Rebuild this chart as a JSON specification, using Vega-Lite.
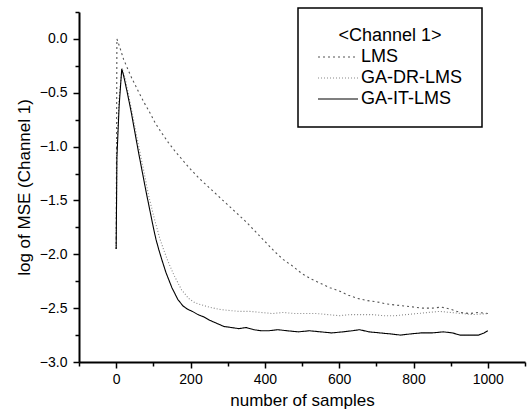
{
  "$schema": "https://vega.github.io/schema/vega-lite/v6.json",
  "width": 446,
  "height": 350,
  "autosize": {"type": "none"},
  "padding": {"left": 79, "top": 12, "right": 2, "bottom": 55},
  "background": "white",
  "config": {
    "view": {"stroke": null},
    "font": "Liberation Sans",
    "axis": {"domainColor": "black", "domainWidth": 2, "tickColor": "black", "tickWidth": 1.5, "labelColor": "black", "titleColor": "black", "labelFont": "Liberation Sans", "titleFont": "Liberation Sans", "titleFontWeight": "normal", "grid": false},
    "legend": {
      "orient": "none", "legendX": 219, "legendY": -4,
      "strokeColor": "black", "strokeWidth": 1.5, "padding": 19,
      "titleFontSize": 18, "titleFontWeight": "normal", "titleAnchor": "middle", "titleColor": "black", "titlePadding": 3,
      "labelFontSize": 18, "labelColor": "black", "labelOffset": 14,
      "symbolType": "M-4,0H4", "symbolSize": 100, "symbolFillColor": "transparent", "symbolOffset": 12,
      "rowPadding": 3
    }
  },
  "data": {"values": [
    {"series": "LMS", "x": 0, "y": -1.95},
    {"series": "LMS", "x": 2, "y": 0.0},
    {"series": "LMS", "x": 10, "y": -0.08},
    {"series": "LMS", "x": 20, "y": -0.19},
    {"series": "LMS", "x": 30, "y": -0.27},
    {"series": "LMS", "x": 40, "y": -0.35},
    {"series": "LMS", "x": 50, "y": -0.42},
    {"series": "LMS", "x": 60, "y": -0.49},
    {"series": "LMS", "x": 75, "y": -0.59},
    {"series": "LMS", "x": 90, "y": -0.68},
    {"series": "LMS", "x": 105, "y": -0.78},
    {"series": "LMS", "x": 120, "y": -0.86},
    {"series": "LMS", "x": 140, "y": -0.96},
    {"series": "LMS", "x": 160, "y": -1.05},
    {"series": "LMS", "x": 180, "y": -1.13},
    {"series": "LMS", "x": 200, "y": -1.21},
    {"series": "LMS", "x": 225, "y": -1.3},
    {"series": "LMS", "x": 250, "y": -1.38},
    {"series": "LMS", "x": 275, "y": -1.46},
    {"series": "LMS", "x": 300, "y": -1.54},
    {"series": "LMS", "x": 325, "y": -1.62},
    {"series": "LMS", "x": 350, "y": -1.7},
    {"series": "LMS", "x": 375, "y": -1.79},
    {"series": "LMS", "x": 400, "y": -1.88},
    {"series": "LMS", "x": 425, "y": -1.97},
    {"series": "LMS", "x": 450, "y": -2.05},
    {"series": "LMS", "x": 475, "y": -2.11},
    {"series": "LMS", "x": 500, "y": -2.18},
    {"series": "LMS", "x": 525, "y": -2.23},
    {"series": "LMS", "x": 550, "y": -2.27},
    {"series": "LMS", "x": 575, "y": -2.31},
    {"series": "LMS", "x": 600, "y": -2.34},
    {"series": "LMS", "x": 625, "y": -2.38},
    {"series": "LMS", "x": 650, "y": -2.41},
    {"series": "LMS", "x": 675, "y": -2.43},
    {"series": "LMS", "x": 700, "y": -2.44},
    {"series": "LMS", "x": 725, "y": -2.46},
    {"series": "LMS", "x": 750, "y": -2.47},
    {"series": "LMS", "x": 775, "y": -2.48},
    {"series": "LMS", "x": 800, "y": -2.49},
    {"series": "LMS", "x": 825, "y": -2.5},
    {"series": "LMS", "x": 850, "y": -2.5},
    {"series": "LMS", "x": 875, "y": -2.49},
    {"series": "LMS", "x": 900, "y": -2.51},
    {"series": "LMS", "x": 925, "y": -2.54},
    {"series": "LMS", "x": 950, "y": -2.55},
    {"series": "LMS", "x": 975, "y": -2.54},
    {"series": "LMS", "x": 1000, "y": -2.55},

    {"series": "GA-DR-LMS", "x": 0, "y": -1.95},
    {"series": "GA-DR-LMS", "x": 2, "y": -1.0},
    {"series": "GA-DR-LMS", "x": 8, "y": -0.55},
    {"series": "GA-DR-LMS", "x": 16, "y": -0.27},
    {"series": "GA-DR-LMS", "x": 25, "y": -0.38},
    {"series": "GA-DR-LMS", "x": 35, "y": -0.55},
    {"series": "GA-DR-LMS", "x": 45, "y": -0.72},
    {"series": "GA-DR-LMS", "x": 55, "y": -0.9},
    {"series": "GA-DR-LMS", "x": 65, "y": -1.07},
    {"series": "GA-DR-LMS", "x": 74, "y": -1.22},
    {"series": "GA-DR-LMS", "x": 87, "y": -1.45},
    {"series": "GA-DR-LMS", "x": 102, "y": -1.66},
    {"series": "GA-DR-LMS", "x": 118, "y": -1.86},
    {"series": "GA-DR-LMS", "x": 128, "y": -1.96},
    {"series": "GA-DR-LMS", "x": 140, "y": -2.07},
    {"series": "GA-DR-LMS", "x": 155, "y": -2.19},
    {"series": "GA-DR-LMS", "x": 176, "y": -2.33},
    {"series": "GA-DR-LMS", "x": 195, "y": -2.41},
    {"series": "GA-DR-LMS", "x": 212, "y": -2.45},
    {"series": "GA-DR-LMS", "x": 230, "y": -2.47},
    {"series": "GA-DR-LMS", "x": 250, "y": -2.49},
    {"series": "GA-DR-LMS", "x": 275, "y": -2.51},
    {"series": "GA-DR-LMS", "x": 300, "y": -2.52},
    {"series": "GA-DR-LMS", "x": 330, "y": -2.53},
    {"series": "GA-DR-LMS", "x": 360, "y": -2.53},
    {"series": "GA-DR-LMS", "x": 390, "y": -2.54},
    {"series": "GA-DR-LMS", "x": 420, "y": -2.55},
    {"series": "GA-DR-LMS", "x": 450, "y": -2.54},
    {"series": "GA-DR-LMS", "x": 480, "y": -2.55},
    {"series": "GA-DR-LMS", "x": 510, "y": -2.55},
    {"series": "GA-DR-LMS", "x": 540, "y": -2.55},
    {"series": "GA-DR-LMS", "x": 570, "y": -2.56},
    {"series": "GA-DR-LMS", "x": 600, "y": -2.57},
    {"series": "GA-DR-LMS", "x": 630, "y": -2.56},
    {"series": "GA-DR-LMS", "x": 660, "y": -2.56},
    {"series": "GA-DR-LMS", "x": 690, "y": -2.56},
    {"series": "GA-DR-LMS", "x": 720, "y": -2.57},
    {"series": "GA-DR-LMS", "x": 750, "y": -2.57},
    {"series": "GA-DR-LMS", "x": 780, "y": -2.56},
    {"series": "GA-DR-LMS", "x": 810, "y": -2.55},
    {"series": "GA-DR-LMS", "x": 840, "y": -2.54},
    {"series": "GA-DR-LMS", "x": 870, "y": -2.53},
    {"series": "GA-DR-LMS", "x": 900, "y": -2.54},
    {"series": "GA-DR-LMS", "x": 930, "y": -2.55},
    {"series": "GA-DR-LMS", "x": 960, "y": -2.56},
    {"series": "GA-DR-LMS", "x": 1000, "y": -2.55},

    {"series": "GA-IT-LMS", "x": 0, "y": -1.95},
    {"series": "GA-IT-LMS", "x": 2, "y": -1.1},
    {"series": "GA-IT-LMS", "x": 8, "y": -0.62},
    {"series": "GA-IT-LMS", "x": 15, "y": -0.28},
    {"series": "GA-IT-LMS", "x": 20, "y": -0.34},
    {"series": "GA-IT-LMS", "x": 30, "y": -0.5},
    {"series": "GA-IT-LMS", "x": 40, "y": -0.67},
    {"series": "GA-IT-LMS", "x": 50, "y": -0.86},
    {"series": "GA-IT-LMS", "x": 60, "y": -1.05},
    {"series": "GA-IT-LMS", "x": 70, "y": -1.23},
    {"series": "GA-IT-LMS", "x": 80, "y": -1.41},
    {"series": "GA-IT-LMS", "x": 90, "y": -1.58},
    {"series": "GA-IT-LMS", "x": 100, "y": -1.75},
    {"series": "GA-IT-LMS", "x": 107, "y": -1.86},
    {"series": "GA-IT-LMS", "x": 115, "y": -1.96},
    {"series": "GA-IT-LMS", "x": 122, "y": -2.04},
    {"series": "GA-IT-LMS", "x": 134, "y": -2.17},
    {"series": "GA-IT-LMS", "x": 150, "y": -2.31},
    {"series": "GA-IT-LMS", "x": 166, "y": -2.42},
    {"series": "GA-IT-LMS", "x": 180, "y": -2.48},
    {"series": "GA-IT-LMS", "x": 192, "y": -2.51},
    {"series": "GA-IT-LMS", "x": 205, "y": -2.53},
    {"series": "GA-IT-LMS", "x": 220, "y": -2.56},
    {"series": "GA-IT-LMS", "x": 235, "y": -2.58},
    {"series": "GA-IT-LMS", "x": 250, "y": -2.61},
    {"series": "GA-IT-LMS", "x": 270, "y": -2.64},
    {"series": "GA-IT-LMS", "x": 290, "y": -2.67},
    {"series": "GA-IT-LMS", "x": 310, "y": -2.68},
    {"series": "GA-IT-LMS", "x": 330, "y": -2.69},
    {"series": "GA-IT-LMS", "x": 350, "y": -2.68},
    {"series": "GA-IT-LMS", "x": 370, "y": -2.7},
    {"series": "GA-IT-LMS", "x": 390, "y": -2.71},
    {"series": "GA-IT-LMS", "x": 410, "y": -2.71},
    {"series": "GA-IT-LMS", "x": 435, "y": -2.7},
    {"series": "GA-IT-LMS", "x": 460, "y": -2.71},
    {"series": "GA-IT-LMS", "x": 490, "y": -2.72},
    {"series": "GA-IT-LMS", "x": 520, "y": -2.71},
    {"series": "GA-IT-LMS", "x": 550, "y": -2.72},
    {"series": "GA-IT-LMS", "x": 580, "y": -2.73},
    {"series": "GA-IT-LMS", "x": 610, "y": -2.72},
    {"series": "GA-IT-LMS", "x": 635, "y": -2.71},
    {"series": "GA-IT-LMS", "x": 655, "y": -2.7},
    {"series": "GA-IT-LMS", "x": 680, "y": -2.72},
    {"series": "GA-IT-LMS", "x": 710, "y": -2.73},
    {"series": "GA-IT-LMS", "x": 740, "y": -2.74},
    {"series": "GA-IT-LMS", "x": 765, "y": -2.75},
    {"series": "GA-IT-LMS", "x": 790, "y": -2.74},
    {"series": "GA-IT-LMS", "x": 820, "y": -2.73},
    {"series": "GA-IT-LMS", "x": 850, "y": -2.73},
    {"series": "GA-IT-LMS", "x": 880, "y": -2.72},
    {"series": "GA-IT-LMS", "x": 905, "y": -2.73},
    {"series": "GA-IT-LMS", "x": 925, "y": -2.75},
    {"series": "GA-IT-LMS", "x": 950, "y": -2.75},
    {"series": "GA-IT-LMS", "x": 975, "y": -2.75},
    {"series": "GA-IT-LMS", "x": 990, "y": -2.73},
    {"series": "GA-IT-LMS", "x": 1000, "y": -2.71}
  ]},
  "mark": {"type": "line", "clip": true},
  "encoding": {
    "x": {
      "field": "x", "type": "quantitative",
      "scale": {"domain": [-100, 1100], "nice": false, "zero": false},
      "axis": {
        "title": "number of samples",
        "values": [-100, 0, 100, 200, 300, 400, 500, 600, 700, 800, 900, 1000, 1100],
        "labelExpr": "(datum.value % 200 == 0 && datum.value >= 0 && datum.value <= 1000) ? format(datum.value, 'd') : ''",
        "labelOverlap": false,
        "labelFontSize": 14,
        "labelPadding": 4,
        "tickSize": {"condition": {"test": "datum.value % 200 == 0", "value": 6}, "value": 4},
        "titleFontSize": 17,
        "titlePadding": 6
      }
    },
    "y": {
      "field": "y", "type": "quantitative",
      "scale": {"domain": [-3, 0.25], "nice": false, "zero": false},
      "axis": {
        "title": "log of MSE (Channel 1)",
        "values": [-3, -2.75, -2.5, -2.25, -2, -1.75, -1.5, -1.25, -1, -0.75, -0.5, -0.25, 0, 0.25],
        "labelExpr": "(abs(datum.value*2 - round(datum.value*2)) < 0.001 && datum.value <= 0) ? format(datum.value, '.1f') : ''",
        "labelOverlap": false,
        "labelFontSize": 14,
        "labelPadding": 6,
        "tickSize": {"condition": {"test": "abs(datum.value*2 - round(datum.value*2)) < 0.001", "value": 6}, "value": 4},
        "titleFontSize": 17,
        "titlePadding": 6
      }
    },
    "color": {
      "field": "series", "type": "nominal",
      "scale": {"domain": ["LMS", "GA-DR-LMS", "GA-IT-LMS"], "range": ["#555555", "#888888", "#000000"]},
      "legend": {"title": "<Channel 1>"}
    },
    "strokeDash": {
      "field": "series", "type": "nominal",
      "scale": {"domain": ["LMS", "GA-DR-LMS", "GA-IT-LMS"], "range": [[2, 3], [1, 2], [1, 0]]},
      "legend": {"title": "<Channel 1>"}
    },
    "strokeWidth": {
      "field": "series", "type": "nominal",
      "scale": {"domain": ["LMS", "GA-DR-LMS", "GA-IT-LMS"], "range": [1.1, 1.1, 1.5]},
      "legend": {"title": "<Channel 1>"}
    }
  }
}
